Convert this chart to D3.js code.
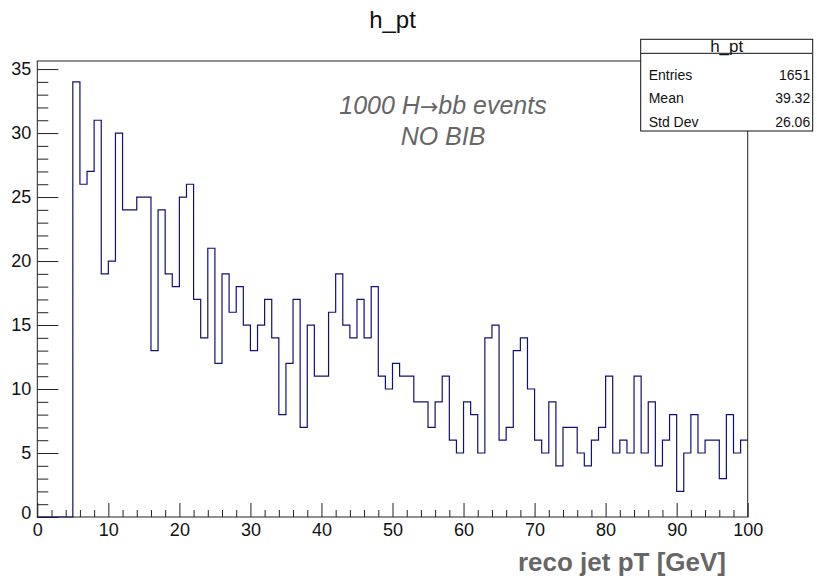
<!DOCTYPE html>
<html>
<head>
<meta charset="utf-8">
<script src="https://cdn.jsdelivr.net/npm/d3@7"></script>
<style>
	body { margin: 0; background: #fff; }
	svg { display: block; font-family: "Liberation Sans", Arial, sans-serif; }
</style>
</head>
<body>
<div id="chart"></div>
<script>
///////////////////////////////////////////////////////////////////////////
//////////////////////////// data /////////////////////////////////////////
///////////////////////////////////////////////////////////////////////////

// bin contents, 100 bins of 1 GeV from 0 to 100
const counts = [
	0, 0, 0, 0, 0, 34, 26, 27, 31, 19,
	20, 30, 24, 24, 25, 25, 13, 24, 19, 18,
	25, 26, 17, 14, 21, 12, 19, 16, 18, 15,
	13, 15, 17, 14, 8, 12, 17, 7, 15, 11,
	11, 16, 19, 15, 14, 17, 14, 18, 11, 10,
	12, 11, 11, 9, 9, 7, 9, 11, 6, 5,
	9, 8, 5, 14, 15, 6, 7, 13, 14, 10,
	6, 5, 9, 4, 7, 7, 5, 4, 6, 7,
	11, 5, 6, 5, 11, 5, 9, 4, 6, 8,
	2, 5, 8, 5, 6, 6, 3, 8, 5, 6
];
const binLow = 0;
const binWidth = 1;

const xTicks = [0, 10, 20, 30, 40, 50, 60, 70, 80, 90, 100];
const yTicks = [0, 5, 10, 15, 20, 25, 30, 35];

const statLabels = ["Entries", "Mean", "Std Dev"];
const statValues = ["1651", "39.32", "26.06"];

const titleText = "h_pt";
// note line 1 is split so the arrow can use a font with a long arrow glyph
const noteLine1 = ["1000 H", "\u2192", "bb events"];
const noteLine2 = "NO BIB";
const xTitle = "reco jet pT [GeV]";

///////////////////////////////////////////////////////////////////////////
//////////////////////////// Set up svg ///////////////////////////////////
///////////////////////////////////////////////////////////////////////////

const width = 817;
const height = 579;
const frame = { left: 37.3, right: 747.7, top: 61, bottom: 517 };

const svg = d3
	.select("#chart")
	.append("svg")
	.attr("width", width)
	.attr("height", height);

///////////////////////////////////////////////////////////////////////////
//////////////////////////// scales ///////////////////////////////////////
///////////////////////////////////////////////////////////////////////////

const xScale = d3.scaleLinear().domain([0, 100]).range([frame.left, frame.right]);
const yScale = d3.scaleLinear().domain([0, 35.63]).range([frame.bottom, frame.top]);

///////////////////////////////////////////////////////////////////////////
//////////////////////////// axes /////////////////////////////////////////
///////////////////////////////////////////////////////////////////////////

// frame
svg
	.append("rect")
	.attr("x", frame.left)
	.attr("y", frame.top)
	.attr("width", frame.right - frame.left)
	.attr("height", frame.bottom - frame.top)
	.attr("fill", "none")
	.attr("stroke", "#222")
	.attr("stroke-width", 1);

// minor ticks (every 2 on x, every 1 on y)
const xMinor = d3.range(0, 101, 2).filter((v) => v % 10 !== 0);
const yMinor = d3.range(0, 36, 1).filter((v) => v % 5 !== 0);

svg
	.append("g")
	.attr("transform", `translate(0,${frame.bottom})`)
	.call(d3.axisBottom(xScale).tickValues(xMinor).tickSize(-7).tickFormat(""))
	.call((g) => g.select(".domain").remove());

svg
	.append("g")
	.attr("transform", `translate(${frame.left},0)`)
	.call(d3.axisLeft(yScale).tickValues(yMinor).tickSize(-11).tickFormat(""))
	.call((g) => g.select(".domain").remove());

// major ticks with labels
const xAxis = svg
	.append("g")
	.attr("transform", `translate(0,${frame.bottom})`)
	.call(d3.axisBottom(xScale).tickValues(xTicks).tickSize(-14).tickPadding(6).tickFormat(d3.format("d")));

const yAxis = svg
	.append("g")
	.attr("transform", `translate(${frame.left},0)`)
	.call(d3.axisLeft(yScale).tickValues(yTicks).tickSize(-21).tickPadding(6).tickFormat(d3.format("d")));

[xAxis, yAxis].forEach((g) => {
	g.select(".domain").remove();
	g.selectAll("text").attr("font-size", 18).attr("fill", "#111");
	g.attr("font-family", null);
});
svg.selectAll(".tick line").attr("stroke", "#222");

// y "0" sits a bit higher than the other labels
yAxis.selectAll(".tick text").filter((d) => d === 0).attr("dy", "0.1em");

///////////////////////////////////////////////////////////////////////////
//////////////////////////// plot /////////////////////////////////////////
///////////////////////////////////////////////////////////////////////////

const steps = counts.map((c, i) => ({ x: binLow + i * binWidth, y: c }));
steps.push({ x: binLow + counts.length * binWidth, y: counts[counts.length - 1] });

const line = d3
	.line()
	.x((d) => xScale(d.x))
	.y((d) => yScale(d.y))
	.curve(d3.curveStepAfter);

svg
	.append("path")
	.datum(steps)
	.attr("d", line)
	.attr("fill", "none")
	.attr("stroke", "#10107a")
	.attr("stroke-width", 1.2);

///////////////////////////////////////////////////////////////////////////
//////////////////////////// texts ////////////////////////////////////////
///////////////////////////////////////////////////////////////////////////

svg
	.append("text")
	.attr("x", (frame.left + frame.right) / 2)
	.attr("y", 28)
	.attr("text-anchor", "middle")
	.attr("font-size", 24)
	.attr("fill", "#111")
	.text(titleText);

const note1 = svg
	.append("text")
	.attr("x", 443)
	.attr("y", 114)
	.attr("text-anchor", "middle")
	.attr("font-size", 25)
	.attr("font-style", "italic")
	.attr("fill", "#666");
note1
	.selectAll("tspan")
	.data(noteLine1)
	.enter()
	.append("tspan")
	.attr("font-family", (d, i) => (i === 1 ? "DejaVu Sans" : null))
	.attr("font-style", (d, i) => (i === 1 ? "normal" : null))
	.attr("font-size", (d, i) => (i === 1 ? 22 : null))
	.text((d) => d);

svg
	.append("text")
	.attr("x", 443)
	.attr("y", 145)
	.attr("text-anchor", "middle")
	.attr("font-size", 25)
	.attr("font-style", "italic")
	.attr("fill", "#666")
	.text(noteLine2);

svg
	.append("text")
	.attr("x", 726)
	.attr("y", 571)
	.attr("text-anchor", "end")
	.attr("font-size", 26)
	.attr("font-weight", "bold")
	.attr("fill", "#666")
	.text(xTitle);

///////////////////////////////////////////////////////////////////////////
//////////////////////////// stats box ////////////////////////////////////
///////////////////////////////////////////////////////////////////////////

const box = { x: 640.7, y: 39.3, w: 172, h: 91.7, head: 14 };
const stats = svg.append("g");

stats
	.append("rect")
	.attr("x", box.x)
	.attr("y", box.y)
	.attr("width", box.w)
	.attr("height", box.h)
	.attr("fill", "#fff")
	.attr("stroke", "#111")
	.attr("stroke-width", 1);

stats
	.append("line")
	.attr("x1", box.x)
	.attr("x2", box.x + box.w)
	.attr("y1", box.y + box.head)
	.attr("y2", box.y + box.head)
	.attr("stroke", "#111");

stats
	.append("text")
	.attr("x", box.x + box.w / 2)
	.attr("y", box.y + 12.5)
	.attr("text-anchor", "middle")
	.attr("font-size", 17)
	.attr("fill", "#111")
	.text(titleText);

statLabels.forEach((lab, i) => {
	const y = box.y + 40.5 + i * 23.5;
	stats
		.append("text")
		.attr("x", box.x + 8)
		.attr("y", y)
		.attr("font-size", 14)
		.attr("fill", "#111")
		.text(lab);
	stats
		.append("text")
		.attr("x", box.x + box.w - 2.5)
		.attr("y", y)
		.attr("text-anchor", "end")
		.attr("font-size", 14)
		.attr("fill", "#111")
		.text(statValues[i]);
});
</script>
</body>
</html>
